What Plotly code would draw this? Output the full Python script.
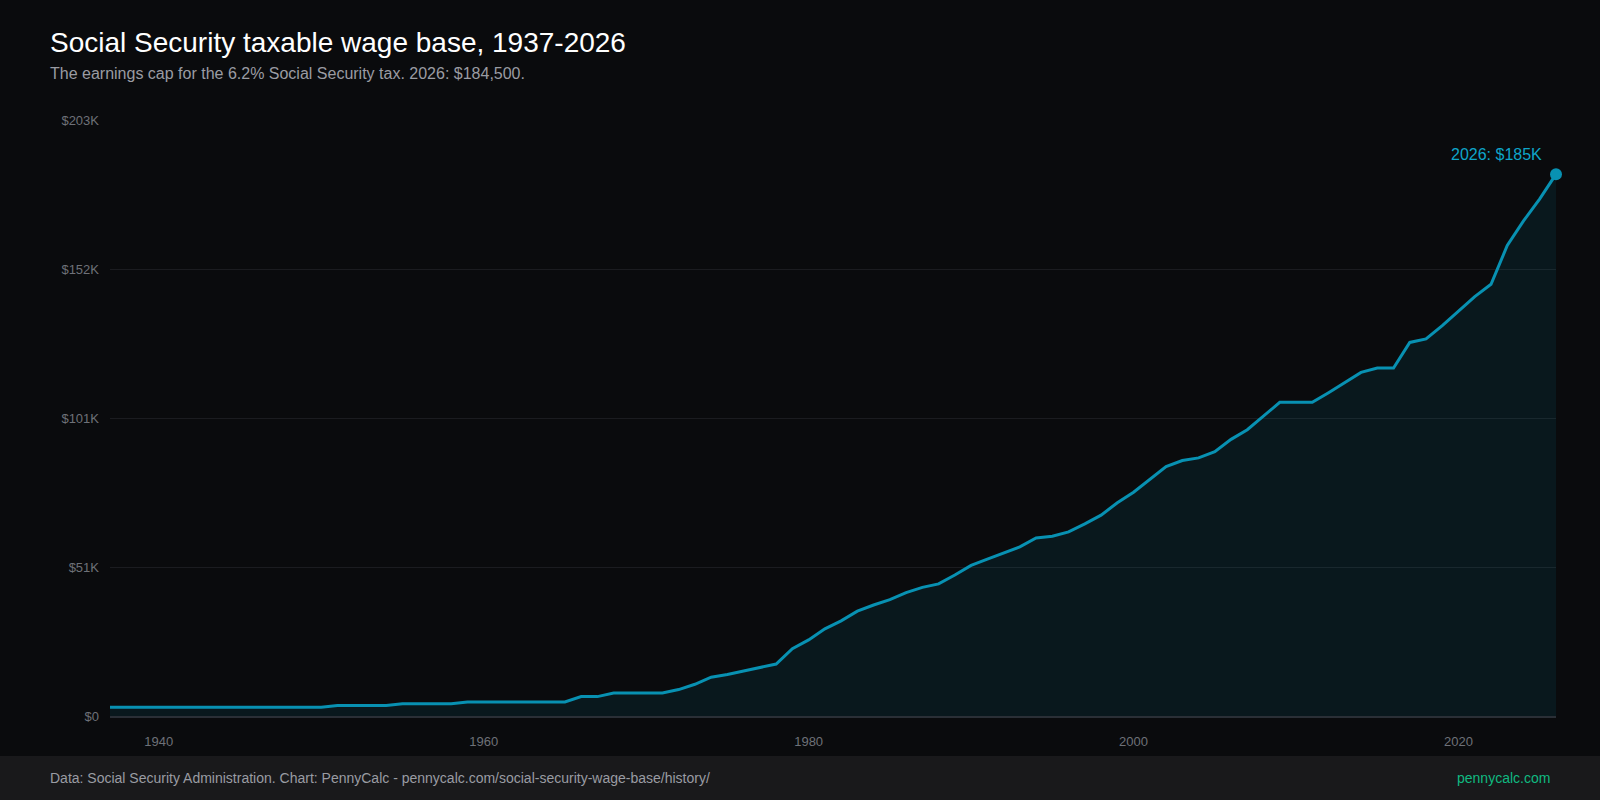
#!/usr/bin/env python
# -*- coding: utf-8 -*-
"""
Social Security taxable wage base history chart
"""

import numpy as np
import plotly.graph_objects as go

# Wage base per year (SSA)
YEARS = list(range(1937, 2027))
WAGE_BASE = [3000] * 14 + [3600] * 4 + [4200] * 4 + [4800] * 7 + [6600] * 2 + [7800] * 4 + [
    9000, 10800, 13200, 14100, 15300, 16500, 17700, 22900, 25900, 29700,
    32400, 35700, 37800, 39600, 42000, 43800, 45000, 48000, 51300, 53400,
    55500, 57600, 60600, 61200, 62700, 65400, 68400, 72600, 76200, 80400,
    84900, 87000, 87900, 90000, 94200, 97500, 102000, 106800, 106800, 106800,
    110100, 113700, 117000, 118500, 118500, 127200, 128400, 132900, 137700, 142800,
    147000, 160200, 168600, 176100, 184500]
X_TICKS = [1940, 1960, 1980, 2000, 2020]

TITLE = 'Social Security taxable wage base, 1937-2026'
SUBTITLE = 'The earnings cap for the 6.2% Social Security tax. 2026: $184,500.'
FOOTER_LEFT = 'Data: Social Security Administration. Chart: PennyCalc - pennycalc.com/social-security-wage-base/history/'
FOOTER_RIGHT = 'pennycalc.com'

FONT = 'Liberation Sans, Arial, Helvetica, sans-serif'
BG = '#0a0b0d'
LINE_COLOR = '#0891b2'

# Canvas geometry (pixels)
W, H = 1600, 800
M_L, M_R, M_T, M_B = 110, 44, 120, 84
PLOT_W = W - M_L - M_R
PLOT_H = H - M_T - M_B


def px_y(y):
    """pixel row -> paper y"""
    return (H - M_B - y) / PLOT_H


def px_x(x):
    """pixel column -> paper x"""
    return (x - M_L) / PLOT_W


y_max = max(WAGE_BASE) * 1.1
y_ticks = np.linspace(0, y_max, 5)
y_labels = ['$0' if v == 0 else f'${v / 1000:.0f}K' for v in y_ticks]
last_label = f'{YEARS[-1]}: ${int(WAGE_BASE[-1] / 1000 + 0.5)}K'

fig = go.Figure()
fig.add_trace(go.Scatter(x=YEARS, y=WAGE_BASE,
                         mode='lines',
                         line={'color': LINE_COLOR, 'width': 3},
                         fill='tozeroy',
                         fillcolor='rgba(8,145,178,0.1)',
                         hoverinfo='skip'))
fig.add_trace(go.Scatter(x=[YEARS[-1]], y=[WAGE_BASE[-1]],
                         mode='markers',
                         marker={'color': LINE_COLOR, 'size': 12},
                         hoverinfo='skip',
                         cliponaxis=False))

annotations = [
    {'text': TITLE, 'x': px_x(48), 'y': px_y(42), 'xref': 'paper', 'yref': 'paper',
     'xanchor': 'left', 'yanchor': 'middle', 'showarrow': False,
     'font': {'size': 28, 'color': '#ffffff', 'family': FONT}},
    {'text': SUBTITLE, 'x': px_x(48), 'y': px_y(74), 'xref': 'paper', 'yref': 'paper',
     'xanchor': 'left', 'yanchor': 'middle', 'showarrow': False,
     'font': {'size': 16, 'color': '#9a9ca3', 'family': FONT}},
    {'text': FOOTER_LEFT, 'x': px_x(48), 'y': px_y(778), 'xref': 'paper', 'yref': 'paper',
     'xanchor': 'left', 'yanchor': 'middle', 'showarrow': False,
     'font': {'size': 14, 'color': '#9a9ca3', 'family': FONT}},
    {'text': FOOTER_RIGHT, 'x': px_x(1552), 'y': px_y(778), 'xref': 'paper', 'yref': 'paper',
     'xanchor': 'right', 'yanchor': 'middle', 'showarrow': False,
     'font': {'size': 14, 'color': '#10b981', 'family': FONT}},
    {'text': last_label, 'x': YEARS[-1], 'y': WAGE_BASE[-1], 'xref': 'x', 'yref': 'y',
     'xanchor': 'right', 'yanchor': 'middle', 'xshift': -12, 'yshift': 20, 'showarrow': False,
     'font': {'size': 16, 'color': '#0ea5c9', 'family': FONT}},
]

# footer band
shapes = [{'type': 'rect', 'xref': 'paper', 'yref': 'paper',
           'x0': px_x(0), 'x1': px_x(W), 'y0': px_y(H), 'y1': px_y(756),
           'fillcolor': '#19191b', 'line': {'width': 0}, 'layer': 'below'}]

fig.update_layout(width=W, height=H,
                  paper_bgcolor=BG,
                  plot_bgcolor=BG,
                  showlegend=False,
                  margin={'l': M_L, 'r': M_R, 't': M_T, 'b': M_B, 'pad': 0},
                  font={'family': FONT, 'color': '#6e7178', 'size': 13},
                  xaxis={'range': [YEARS[0], YEARS[-1]],
                         'tickvals': X_TICKS,
                         'showgrid': False,
                         'zeroline': False,
                         'showline': True,
                         'linecolor': '#2a2f36',
                         'linewidth': 2,
                         'ticks': '',
                         'ticklabelstandoff': 12,
                         'tickfont': {'size': 13, 'color': '#6e7178'}},
                  yaxis={'range': [0, y_max],
                         'tickvals': y_ticks,
                         'ticktext': y_labels,
                         'showgrid': True,
                         'gridcolor': '#1b1c20',
                         'gridwidth': 1,
                         'zeroline': False,
                         'ticks': '',
                         'ticklabelstandoff': 10,
                         'tickfont': {'size': 13, 'color': '#6e7178'}},
                  annotations=annotations,
                  shapes=shapes)

# page body has a default margin; drop it so the figure fills the window
fig.write_html('out.html',
               config={'displayModeBar': False},
               post_script="document.body.style.margin='0';document.body.style.overflow='hidden';")
